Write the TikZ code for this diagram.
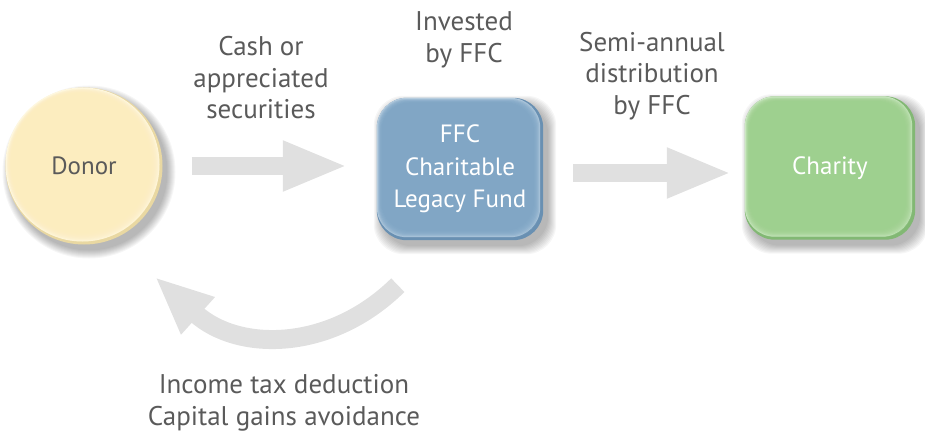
\documentclass[tikz,border=0pt]{standalone}
\usepackage{fontspec}
\setmainfont{PT Sans}
\usetikzlibrary{arrows.meta,backgrounds}
\definecolor{txt}{HTML}{5A5A5A}
\definecolor{arrowgray}{HTML}{E0E0E0}
\definecolor{donorc}{HTML}{FCEDBF}
\definecolor{donord}{HTML}{E9D8A2}
\definecolor{donorl}{HTML}{FFF8E0}
\definecolor{fundc}{HTML}{7FA5C5}
\definecolor{fundd}{HTML}{6990B2}
\definecolor{fundl}{HTML}{B9CFE1}
\definecolor{charc}{HTML}{9DD08E}
\definecolor{chard}{HTML}{82B874}
\definecolor{charl}{HTML}{CDE8C4}
\newcommand\bevelbox[5]{%
  \foreach \k in {0,...,8}{\fill[black,opacity=0.035,rounded corners=#5]
    ([shift={(-3+\k,-2+\k)}]#1.north west) rectangle ([shift={(13-\k,14-\k)}]#1.south east);}
  \fill[#2,rounded corners=#5] (#1.north west) rectangle (#1.south east);
  \fill[#3,rounded corners=#5] (#1.north west) rectangle ([shift={(-3,-3)}]#1.south east);
  \foreach \k in {0,...,7}{\fill[#4,opacity=0.3,rounded corners=#5-2]
    ([shift={(1+0.6*\k,1+0.6*\k)}]#1.north west) rectangle ([shift={(-3-\k,-3-\k)}]#1.south east);}
}
\newcommand\bevelcircle[5]{%
  \foreach \k in {0,...,8}{\fill[black,opacity=0.035]
    ([shift={(5,6)}]#1.center) circle (#5+8-\k);}
  \fill[#2] (#1.center) circle (#5);
  \fill[#3] ([shift={(-1.5,-1.5)}]#1.center) circle (#5-1.5);
  \foreach \k in {0,...,7}{\fill[#4,opacity=0.3]
    ([shift={(-1-0.3*\k,-1-0.3*\k)}]#1.center) circle (#5-2-\k);}
}
\begin{document}
\begin{tikzpicture}[x=1pt,y=-1pt,
  lbl/.style={text=txt, align=center, font=\fontsize{27}{31.5}\selectfont},
  inlbl/.style={align=center, font=\fontsize{25}{32.5}\selectfont},
  boxnode/.style={rectangle, inner sep=0pt, minimum width=#1},
  flow/.style={draw=arrowgray, line width=18pt, -{Triangle[length=65pt,width=46pt]}},
]
\useasboundingbox (0,0) rectangle (925,438);
% nodes
\node[circle, inner sep=0pt, minimum size=157pt, inlbl, text=txt] (donor) at (84,166) {Donor};
\node[boxnode=166pt, minimum height=142pt, inlbl, text=white] (fund) at (460,169) {FFC\\Charitable\\Legacy Fund};
\node[boxnode=170pt, minimum height=143pt, inlbl, text=white] (charity) at (830,168) {Charity};
\begin{scope}[on background layer]
  \bevelcircle{donor}{donord}{donorl}{donorc}{78.5}
  \bevelbox{fund}{fundd}{fundl}{fundc}{30}
  \bevelbox{charity}{chard}{charl}{charc}{30}
\end{scope}
% labels
\node[lbl] (lcash) at (261,78) {Cash or\\appreciated\\securities};
\node[lbl] (linv) at (464,40) {Invested\\by FFC};
\node[lbl] (ldist) at (652,76) {Semi-annual\\distribution\\by FFC};
\node[lbl] (lbenefit) at (284,403) {Income tax deduction\\Capital gains avoidance};
% connectors
\draw[flow] ([xshift=29pt]donor.east) -- ([xshift=-29pt]fund.west |- donor.east);
\draw[flow] ([shift={(30,4)}]fund.east) -- ([shift={(-13,4)}]charity.west |- fund.east);
\coordinate (ret) at (155,277);
\draw[draw=arrowgray, line width=19pt, -{Triangle[length=58pt,width=46pt]}]
  ([shift={(21,45)}]fund.south west) .. controls (330,352) and (238,352) .. (ret);
\end{tikzpicture}
\end{document}
